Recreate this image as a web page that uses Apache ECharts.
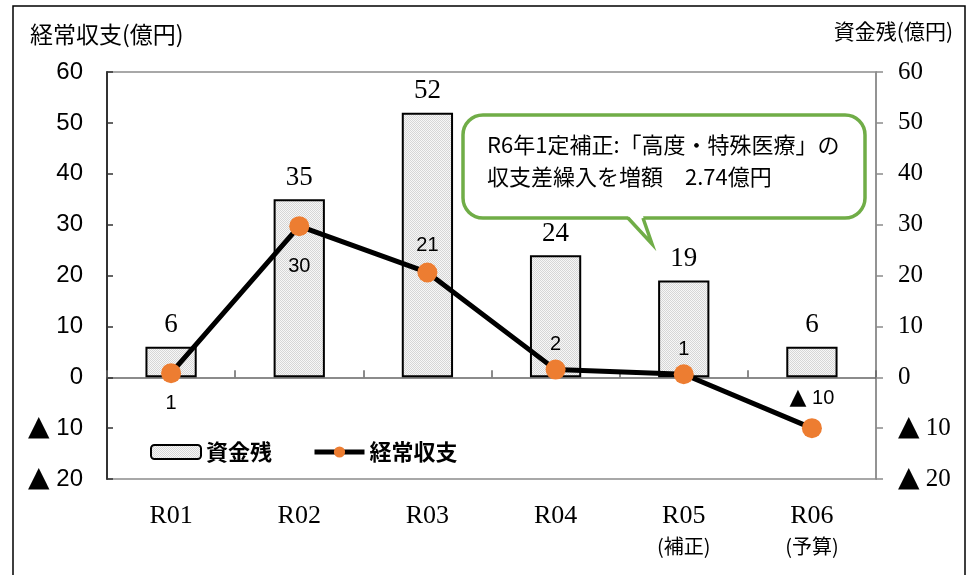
<!DOCTYPE html>
<html><head><meta charset="utf-8">
<script src="https://cdn.jsdelivr.net/npm/echarts@6/dist/echarts.min.js"></script>
<style>html,body{margin:0;padding:0;background:#fff}#c{width:975px;height:575px}</style>
</head><body><div id="c"></div>
<script>
const categories = ['R01','R02','R03','R04','R05','R06'];
const categoryNotes = ['','','','','(補正)','(予算)'];
const fundBalance = [6,35,52,24,19,6];
const operatingBalance = [0.8,29.7,20.6,1.5,0.6,-10];
const axisMin = -20, axisMax = 60, axisStep = 10;
const lineLabelPos = ['bottom','bottom','top','top','top','top'];
const lineLabelDist = [10,20,7,5,5,9];

function fmtNegRich(v){ v = Math.round(v); return v < 0 ? '{t|▲} ' + (-v) : String(v); }

const pc = document.createElement('canvas');
pc.width = 4; pc.height = 4;
const pctx = pc.getContext('2d');
for (let x = 0; x < 4; x++) for (let y = 0; y < 4; y++) {
  pctx.fillStyle = ((x + y) % 2 === 0) ? '#d6d6d6' : '#f7f7f7';
  pctx.fillRect(x, y, 1, 1);
}
const barPattern = {image: pc, repeat: 'repeat'};

const SANS = '"Liberation Sans", Arial, "Noto Sans CJK JP", sans-serif';
const SERIF = '"Liberation Serif", "DejaVu Serif", "Noto Sans CJK JP", serif';
const CJK = '"Noto Sans CJK JP", sans-serif';
const TRI = '"DejaVu Sans", sans-serif';

const chart = echarts.init(document.getElementById('c'));
chart.setOption({
  animation: false,
  backgroundColor: '#fff',
  grid: {left: 107, top: 72, right: 99, bottom: 96, show: true, borderColor: '#8c8c8c', borderWidth: 1.5},
  legend: {
    left: 145, top: 436, itemWidth: 50, itemHeight: 14, itemGap: 40,
    textStyle: {fontFamily: CJK, fontSize: 22, fontWeight: 'bold', color: '#000'},
    data: ['資金残', {name: '経常収支', lineStyle: {width: 5, color: '#000'}, itemStyle: {color: '#ED7D31'}}]
  },
  xAxis: [
    {type: 'category', data: categories, position: 'bottom',
     axisLine: {onZero: true, lineStyle: {color: '#666', width: 1.5}},
     axisTick: {show: true, inside: true, length: 7, lineStyle: {color: '#666', width: 1.5}},
     axisLabel: {show: false}},
    {type: 'category', data: categories, position: 'bottom',
     axisLine: {show: false, onZero: false}, axisTick: {show: false},
     axisLabel: {margin: 22, color: '#000',
       formatter: (v, i) => categoryNotes[i] ? '{a|' + v + '}\n{b|' + categoryNotes[i] + '}' : '{a|' + v + '}',
       rich: {a: {fontFamily: SERIF, fontSize: 26, lineHeight: 30, color: '#000'},
              b: {fontFamily: CJK, fontSize: 20, lineHeight: 30, color: '#000'}}}}
  ],
  yAxis: [
    {type: 'value', min: axisMin, max: axisMax, interval: axisStep, position: 'left',
     splitLine: {show: false},
     axisLine: {show: true, lineStyle: {color: '#333', width: 2}},
     axisTick: {show: true, inside: true, length: 6, lineStyle: {color: '#333', width: 1.5}},
     axisLabel: {margin: 24, fontFamily: SANS, fontSize: 24, color: '#000', formatter: fmtNegRich,
       rich: {t: {fontFamily: TRI, fontSize: 28, color: '#000'}}}},
    {type: 'value', min: axisMin, max: axisMax, interval: axisStep, position: 'right',
     splitLine: {show: false},
     axisLine: {show: true, lineStyle: {color: '#8c8c8c', width: 1.5}},
     axisTick: {show: true, inside: false, length: 7, lineStyle: {color: '#8c8c8c', width: 1.5}},
     axisLabel: {margin: 22, fontFamily: SERIF, fontSize: 25, color: '#000', formatter: fmtNegRich,
       rich: {t: {fontFamily: TRI, fontSize: 28, color: '#000'}}}}
  ],
  series: [
    {name: '資金残', type: 'bar', xAxisIndex: 0, yAxisIndex: 0, data: fundBalance, barWidth: '40%',
     itemStyle: {color: barPattern, borderColor: '#000', borderWidth: 2},
     label: {show: true, position: 'top', distance: 8, fontFamily: SERIF, fontSize: 27, color: '#000'},
     z: 2},
    {name: '経常収支', type: 'line', xAxisIndex: 0, yAxisIndex: 0,
     data: operatingBalance.map((v, i) => ({value: v,
       label: {position: lineLabelPos[i], distance: lineLabelDist[i]}})),
     lineStyle: {color: '#000', width: 5}, itemStyle: {color: '#ED7D31'},
     symbol: 'circle', symbolSize: 20,
     label: {show: true, fontFamily: SANS, fontSize: 20, color: '#000', formatter: p => fmtNegRich(p.value),
       rich: {t: {fontFamily: TRI, fontSize: 22, color: '#000'}}},
     z: 5}
  ],
  graphic: [
    {type: 'rect', shape: {x: 13, y: 6, width: 952, height: 600}, style: {fill: 'none', stroke: '#000', lineWidth: 1.5}, silent: true, z: 0},
    {type: 'text', left: 30, top: 23, style: {text: '経常収支(億円)', font: '23px "Noto Sans CJK JP", sans-serif', fill: '#000'}},
    {type: 'text', right: 22, top: 21, style: {text: '資金残(億円)', font: '21px "Noto Sans CJK JP", sans-serif', fill: '#000'}},
    {type: 'rect', shape: {x: 463, y: 115, width: 402, height: 103, r: 20}, style: {fill: '#fff', stroke: '#70AD47', lineWidth: 3.5}, z: 10},
    {type: 'polygon', shape: {points: [[628, 216], [652, 244], [643, 216]]}, style: {fill: '#fff'}, z: 11},
    {type: 'polyline', shape: {points: [[628, 218], [652, 244], [643, 218]]}, style: {stroke: '#70AD47', lineWidth: 3.5, fill: 'none'}, z: 12},
    {type: 'text', left: 487, top: 134, z: 13, style: {text: 'R6年1定補正:「高度・特殊医療」の', font: '22px "Noto Sans CJK JP", sans-serif', fill: '#000'}},
    {type: 'text', left: 487, top: 166, z: 13, style: {text: '収支差繰入を増額　2.74億円', font: '22px "Noto Sans CJK JP", sans-serif', fill: '#000'}}
  ]
});
</script></body></html>
